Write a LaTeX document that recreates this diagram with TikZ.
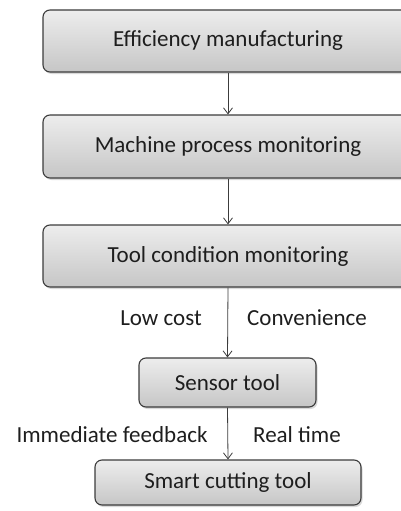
\documentclass[tikz,border=0pt]{standalone}
\usepackage{fontspec}
\setmainfont{Carlito}
\usetikzlibrary{arrows.meta,shadows}
\definecolor{edgegray}{HTML}{3C3C3C}
\definecolor{texgray}{HTML}{1E1E1E}
\definecolor{topfill}{HTML}{EDEDED}
\definecolor{botfill}{HTML}{C6C6C6}
\tikzset{
  stagebox/.style={draw=edgegray, line width=1.1pt, rounded corners=7pt,
    top color=topfill, bottom color=botfill,
    drop shadow={shadow xshift=1.5pt, shadow yshift=-2pt, opacity=0.25, fill=black!60},
    text=texgray, font=\fontsize{23}{26}\selectfont, inner sep=0pt},
  flow/.style={draw=edgegray, line width=0.8pt, -{Straight Barb[length=6pt,width=9pt,line width=0.8pt]}},
  note/.style={text=texgray, font=\fontsize{23}{26}\selectfont, inner sep=0pt}
}
\begin{document}
\begin{tikzpicture}[x=1pt,y=-1pt]
  \useasboundingbox (0,0) rectangle (401,511);
  \clip (0,0) rectangle (401,511);
  \node[stagebox, minimum width=370pt, minimum height=62pt] (eff) at (228,41) {Efficiency manufacturing};
  \node[stagebox, minimum width=370pt, minimum height=63pt] (mpm) at (228,146.5) {Machine process monitoring};
  \node[stagebox, minimum width=370pt, minimum height=62pt] (tcm) at (228,256) {Tool condition monitoring};
  \node[stagebox, minimum width=177pt, minimum height=49pt] (sen) at (227.5,382.5) {Sensor tool};
  \node[stagebox, minimum width=266pt, minimum height=45pt] (sct) at (228,482.5) {Smart cutting tool};
  \draw[flow] (eff.south) -- (mpm.north);
  \draw[flow] (mpm.south) -- (tcm.north);
  \draw[flow] (tcm.south) -- (sen.north);
  \draw[flow] (sen.south) -- (sct.north);
  \node[note] (lowcost) at (161,318) {Low cost};
  \node[note] (conv) at (307,318) {Convenience};
  \node[note] (immfb) at (112,435) {Immediate feedback};
  \node[note] (rt) at (297,435) {Real time};
\end{tikzpicture}
\end{document}
